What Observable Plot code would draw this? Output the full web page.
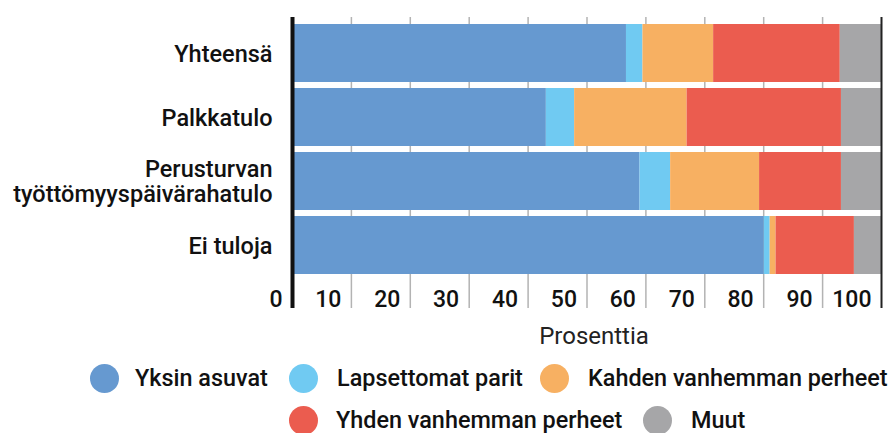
<!DOCTYPE html>
<html>
<head>
<meta charset="utf-8">
<script src="https://cdn.jsdelivr.net/npm/d3@7"></script>
<script src="https://cdn.jsdelivr.net/npm/@observablehq/plot@0.6"></script>
<style>
  body { margin: 0; background: #fff; font-family: Roboto, sans-serif; }
  #chart svg text { font-weight: 500; }
  #legend { position: relative; height: 78px; width: 891px; overflow: hidden; font-family: Roboto, sans-serif; font-weight: 500; font-size: 23.4px; color: #111; white-space: nowrap; }
  .dot { position: absolute; width: 29px; height: 29px; border-radius: 50%; }
  .lab { position: absolute; line-height: 29px; }
</style>
</head>
<body>
<div id="chart"></div>
<div id="legend"></div>
<script>
const categories = ["Yhteensä", "Palkkatulo", "Perusturvan\ntyöttömyyspäivärahatulo", "Ei tuloja"];
const groups = ["Yksin asuvat", "Lapsettomat parit", "Kahden vanhemman perheet", "Yhden vanhemman perheet", "Muut"];
const colors = ["#6699d0", "#70caf2", "#f7b062", "#eb5c4f", "#a6a6a8"];
const yksinAsuvat = [56.7, 43.1, 59.0, 80.1];
const lapsettomatParit = [2.8, 4.8, 5.2, 1.0];
const kahdenVanhemman = [12.0, 19.1, 15.1, 1.0];
const yhdenVanhemman = [21.5, 26.2, 13.9, 13.3];
const muut = [7.0, 6.8, 6.8, 4.6];
const xTicks = [0, 10, 20, 30, 40, 50, 60, 70, 80, 90, 100];
const legendRows = [[0, 1, 2], [3, 4]];

const series = [yksinAsuvat, lapsettomatParit, kahdenVanhemman, yhdenVanhemman, muut];
const data = [];
categories.forEach((c, i) => {
  groups.forEach((g, j) => data.push({category: c, group: g, value: series[j][i]}));
});

const chart = Plot.plot({
  width: 891,
  height: 355,
  marginLeft: 292,
  marginRight: 10,
  marginTop: 17,
  marginBottom: 47,
  style: {fontFamily: "Roboto, sans-serif", color: "#111", background: "#fff"},
  x: {domain: [0, 100], axis: null},
  y: {domain: categories, range: [17.6, 281], padding: 0.1, axis: null},
  color: {domain: groups, range: colors},
  marks: [
    Plot.ruleX(xTicks.slice(1, -1), {stroke: "#b3b3b3", strokeWidth: 1.5}),
    Plot.barX(data, Plot.stackX({x: "value", y: "category", fill: "group"})),
    Plot.ruleX([0], {stroke: "#111", strokeWidth: 4}),
    Plot.ruleX([100], {stroke: "#222", strokeWidth: 2}),
    Plot.axisX({ticks: xTicks, tickSize: 0, tickFormat: d => String(d), textAnchor: "end", dx: -10, dy: -27, fontSize: 23, label: null}),
    Plot.axisY({tickSize: 0, tickPadding: 20, fontSize: 23.5, label: null, lineHeight: 1.08}),
    Plot.text(["Prosenttia"], {frameAnchor: "bottom", dx: 7, dy: 35, fontSize: 24, fontWeight: 400, fill: "#222"})
  ]
});
document.getElementById("chart").appendChild(chart);
chart.querySelectorAll("text").forEach(t => { if (t.textContent === "Prosenttia") t.style.fontWeight = 400; });

// legend item positions (circle centre x, label left x) per row
const legendPos = [[[104, 135], [303, 337], [554, 588]], [[303, 336], [657, 691]]];
const rowCenters = [23, 65];
const legend = document.getElementById("legend");
legendRows.forEach((row, r) => {
  row.forEach((j, k) => {
    const [cx, lx] = legendPos[r][k];
    const dot = document.createElement("span");
    dot.className = "dot";
    dot.style.background = colors[j];
    dot.style.left = (cx - 14.5) + "px";
    dot.style.top = (rowCenters[r] - 14.5) + "px";
    const label = document.createElement("span");
    label.className = "lab";
    label.textContent = groups[j];
    label.style.left = lx + "px";
    label.style.top = (rowCenters[r] - 14.5) + "px";
    legend.appendChild(dot);
    legend.appendChild(label);
  });
});
</script>
</body>
</html>
